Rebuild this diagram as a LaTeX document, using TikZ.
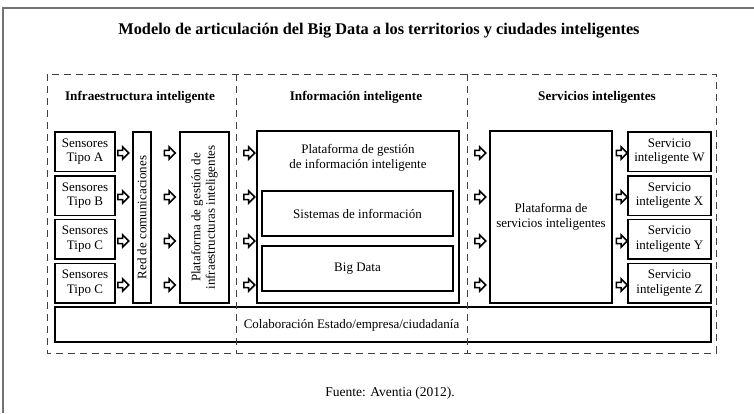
\documentclass[tikz,border=0pt]{standalone}
\usepackage{fontspec}
\setmainfont{Liberation Serif}
\usetikzlibrary{shapes.arrows}
\begin{document}
\begin{tikzpicture}[x=1pt,y=-1pt,
	caja/.style={draw, line width=1.5pt, inner sep=0pt, align=center, font=\fontsize{13}{14.5}\selectfont},
	flecha/.style={draw, line width=1.5pt, fill=white, single arrow, inner sep=1.8pt, minimum height=11pt, single arrow head extend=3.5pt, single arrow tip angle=90},
	zona/.style={draw=black!75, line width=0.8pt, dash pattern=on 7pt off 5pt},
	titulo/.style={font=\bfseries\fontsize{13.2}{15}\selectfont}]
	\useasboundingbox (0,0) rectangle (754,413);

	\draw [color=black!55, line width=1.5pt](3,413) -- (3,8) -- (754,8);

	\node [font=\bfseries\fontsize{16.3}{18}\selectfont] (tit) at (379,31) {Modelo de articulación del Big Data a los territorios y ciudades inteligentes};

	\node[titulo] (hInfra) at (140,97) {Infraestructura inteligente};
	\node[titulo] (hInfo) at (356,97) {Información inteligente};
	\node[titulo] (hServ) at (597,97) {Servicios inteligentes};

	\node[caja, minimum width=60pt, minimum height=39.5pt] (sA) at (85,151.75) {Sensores\\Tipo A};
	\node[caja, minimum width=60pt, minimum height=39.5pt] (sB) at (85,195.5) {Sensores\\Tipo B};
	\node[caja, minimum width=60pt, minimum height=39.5pt] (sC) at (85,239.25) {Sensores\\Tipo C};
	\node[caja, minimum width=60pt, minimum height=39.5pt] (sD) at (85,283) {Sensores\\Tipo C};

	\node[caja, minimum width=18pt, minimum height=171pt] (red) at (142,217.5) {};
	\node[rotate=90, font=\fontsize{13}{14.5}\selectfont] at (red.center) {Red de comunicaciones};
	\node[caja, minimum width=49pt, minimum height=171pt] (platInfra) at (204.5,217.5) {};
	\node[rotate=90, align=center, font=\fontsize{13}{14.5}\selectfont] at (platInfra.center) {Plataforma de gestión de\\infraestructuras inteligentes};

	\node[caja, minimum width=202pt, minimum height=172pt] (platInfo) at (358,217) {};
	\node[align=center, font=\fontsize{13}{14.5}\selectfont] at (358,158) {Plataforma de gestión\\de información inteligente};
	\node[caja, minimum width=191pt, minimum height=45pt] (sist) at (357.5,213.5) {Sistemas de información};
	\node[caja, minimum width=191pt, minimum height=45pt] (big) at (357.5,268.5) {Big Data};

	\node[caja, minimum width=122pt, minimum height=172pt] (platServ) at (551,217) {Plataforma de\\servicios inteligentes};

	\node[caja, minimum width=83pt, minimum height=39.5pt] (svW) at (669.5,151.75) {Servicio\\inteligente W};
	\node[caja, minimum width=83pt, minimum height=39.5pt] (svX) at (669.5,195.5) {Servicio\\inteligente X};
	\node[caja, minimum width=83pt, minimum height=39.5pt] (svY) at (669.5,239.25) {Servicio\\inteligente Y};
	\node[caja, minimum width=83pt, minimum height=39.5pt] (svZ) at (669.5,283) {Servicio\\inteligente Z};

	\node[caja, minimum width=656pt, minimum height=35pt] (colab) at (383,324.5) {};
	\node[font=\fontsize{13}{14.5}\selectfont] at (351.5,325) {Colaboración Estado/empresa/ciudadanía};

	\foreach \c/\x in {a/122,b/168.5,c/248,d/479,e/620.5}
		\foreach \r/\y in {1/153,2/197,3/241,4/285}
			\node[flecha] (f\c\r) at (\x,\y) {};

	\draw[zona] (47,74) rectangle (716,353);
	\draw[zona] (236,74) -- (236,353);
	\draw[zona] (467,74) -- (467,353);

	\node [font=\fontsize{13.5}{15}\selectfont] (fuente) at (390,393) {Fuente: Aventia (2012).};
\end{tikzpicture}
\end{document}
